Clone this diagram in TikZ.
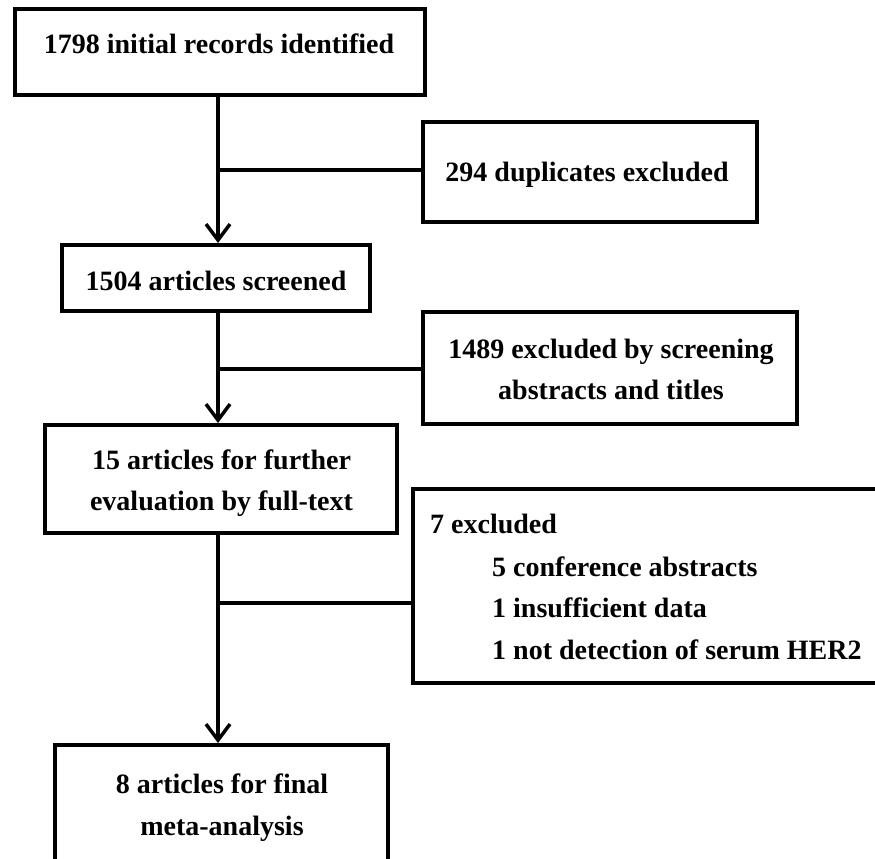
\documentclass[tikz,border=0pt]{standalone}
\usepackage{fontspec}
\setmainfont{Liberation Serif}
\usetikzlibrary{arrows.meta}
\begin{document}
\begin{tikzpicture}[x=1bp,y=-1bp,
  box/.style={draw, rectangle, line width=4bp, inner sep=0pt},
  lbl/.style={inner sep=0pt, font=\fontsize{28bp}{42bp}\selectfont\bfseries},
  conn/.style={line width=3.5bp},
  arr/.style={conn, -{Straight Barb[length=16bp,width=24bp]}}]
\useasboundingbox (0,0) rectangle (875,859);
% boxes
\node[box, minimum width=410bp, minimum height=86bp]  (b1) at (220,52) {};
\node[box, minimum width=334bp, minimum height=100bp] (b2) at (590,172) {};
\node[box, minimum width=308bp, minimum height=66bp]  (b3) at (216,278) {};
\node[box, minimum width=374bp, minimum height=112bp] (b4) at (610,368) {};
\node[box, minimum width=352bp, minimum height=108bp] (b5) at (221,479) {};
\node[box, minimum width=472bp, minimum height=194bp] (b6) at (649,586) {};
\node[box, minimum width=333bp, minimum height=135bp] (b7) at (221.5,812.5) {};
% texts
\node[lbl, anchor=base] (t1) at (219,53) {1798 initial records identified};
\node[lbl, anchor=base] (t2) at (587,181.5) {294 duplicates excluded};
\node[lbl, anchor=base] (t3) at (216,290) {1504 articles screened};
\node[lbl, anchor=base] (t4a) at (611,358) {1489 excluded by screening};
\node[lbl, anchor=base] (t4b) at (611,399) {abstracts and titles};
\node[lbl, anchor=base] (t5a) at (221.5,469) {15 articles for further};
\node[lbl, anchor=base] (t5b) at (221.5,510) {evaluation by full-text};
\node[lbl, anchor=base west] (t6a) at (430,533) {7 excluded};
\node[lbl, anchor=base west] (t6b) at (492,576) {5 conference abstracts};
\node[lbl, anchor=base west] (t6c) at (492,617) {1 insufficient data};
\node[lbl, anchor=base west] (t6d) at (492,659) {1 not detection of serum HER2};
\node[lbl, anchor=base] (t7a) at (222,793) {8 articles for final};
\node[lbl, anchor=base] (t7b) at (222,835) {meta-analysis};
% junctions
\coordinate (j1) at (218,170);
\coordinate (j2) at (218,369);
\coordinate (j3) at (218,603);
% connectors
\draw[arr] (b1.south -| j1) -- (b3.north -| j1);
\draw[conn] (j1) -- (j1 -| b2.west);
\draw[arr] (b3.south -| j2) -- (b5.north -| j2);
\draw[conn] (j2) -- (j2 -| b4.west);
\draw[arr] (b5.south -| j3) -- (b7.north -| j3);
\draw[conn] (j3) -- (j3 -| b6.west);
\end{tikzpicture}
\end{document}
